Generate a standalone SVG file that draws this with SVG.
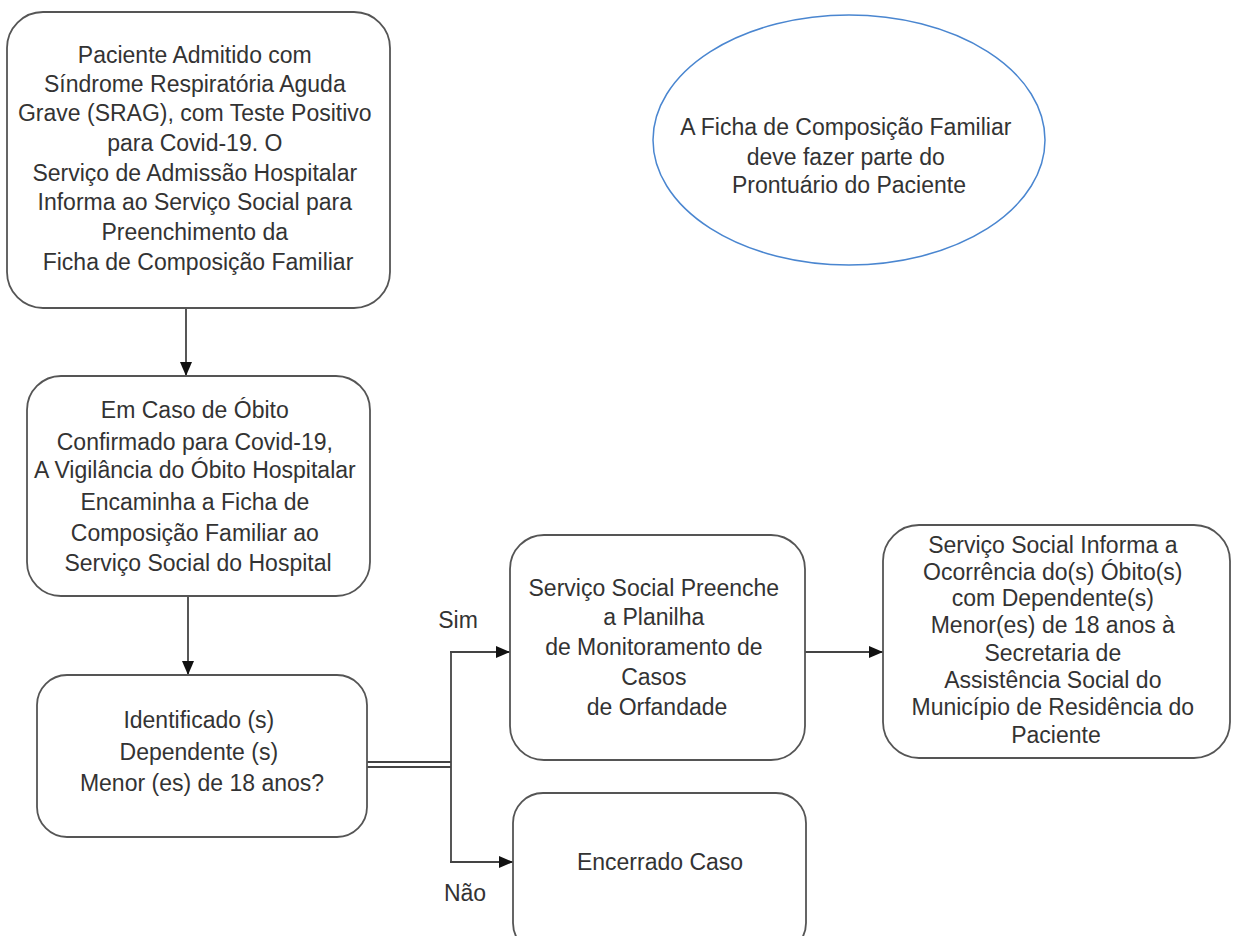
<svg xmlns="http://www.w3.org/2000/svg" width="1233" height="936" viewBox="0 0 1233 936">
<style>
.box{fill:#fff;stroke:#555;stroke-width:1.8}
.t{font-family:"Liberation Sans",Arial,sans-serif;font-size:23px;fill:#333;text-anchor:middle}
.c{fill:none;stroke:#444;stroke-width:1.8}
</style>
<defs>
<marker id="ah" viewBox="0 0 14 12" refX="14" refY="6" markerWidth="14" markerHeight="12" markerUnits="userSpaceOnUse" orient="auto">
<path d="M0,0 L14,6 L0,12 Z" fill="#111"/>
</marker>
</defs>
<rect width="1233" height="936" fill="#fff"/>
<g id="connectors">
<line class="c" x1="186" y1="308" x2="186" y2="376" marker-end="url(#ah)"/>
<line class="c" x1="188" y1="596" x2="188" y2="675" marker-end="url(#ah)"/>
<line class="c" x1="367" y1="762" x2="451" y2="762"/>
<line class="c" x1="367" y1="767" x2="451" y2="767"/>
<line class="c" x1="451" y1="652" x2="451" y2="862"/>
<line class="c" x1="450" y1="652" x2="510" y2="652" marker-end="url(#ah)"/>
<line class="c" x1="450" y1="862" x2="513" y2="862" marker-end="url(#ah)"/>
<line class="c" x1="805" y1="652" x2="883" y2="652" marker-end="url(#ah)"/>
<text class="t" x="458" y="628">Sim</text>
<text class="t" x="465" y="901">Não</text>
</g>
<g id="n1">
<rect class="box" x="7" y="12" width="383" height="296" rx="36"/>
<text class="t" y="0">
<tspan x="198" y="63">Paciente Admitido com</tspan>
<tspan x="198" y="92">Síndrome Respiratória Aguda</tspan>
<tspan x="198" y="121">Grave (SRAG), com Teste Positivo</tspan>
<tspan x="198" y="151">para Covid-19. O</tspan>
<tspan x="198" y="181">Serviço de Admissão Hospitalar</tspan>
<tspan x="198" y="210">Informa ao Serviço Social para</tspan>
<tspan x="198" y="240">Preenchimento da</tspan>
<tspan x="198" y="270">Ficha de Composição Familiar</tspan>
</text>
</g>
<g id="note">
<ellipse cx="849" cy="140" rx="196" ry="125" fill="#fff" stroke="#4a86d0" stroke-width="1.5"/>
<text class="t">
<tspan x="849" y="135">A Ficha de Composição Familiar</tspan>
<tspan x="849" y="165">deve fazer parte do</tspan>
<tspan x="849" y="193">Prontuário do Paciente</tspan>
</text>
</g>
<g id="n2">
<rect class="box" x="27" y="376" width="343" height="220" rx="34"/>
<text class="t">
<tspan x="198" y="418">Em Caso de Óbito</tspan>
<tspan x="198" y="450">Confirmado para Covid-19,</tspan>
<tspan x="198" y="478">A Vigilância do Óbito Hospitalar</tspan>
<tspan x="198" y="510">Encaminha a Ficha de</tspan>
<tspan x="198" y="541">Composição Familiar ao</tspan>
<tspan x="198" y="571">Serviço Social do Hospital</tspan>
</text>
</g>
<g id="n3">
<rect class="box" x="37" y="675" width="330" height="162" rx="30"/>
<text class="t">
<tspan x="202" y="728">Identificado (s)</tspan>
<tspan x="202" y="760">Dependente (s)</tspan>
<tspan x="202" y="791">Menor (es) de 18 anos?</tspan>
</text>
</g>
<g id="n4">
<rect class="box" x="510" y="535" width="295" height="225" rx="34"/>
<text class="t">
<tspan x="657" y="596">Serviço Social Preenche</tspan>
<tspan x="657" y="625">a Planilha</tspan>
<tspan x="657" y="655">de Monitoramento de</tspan>
<tspan x="657" y="685">Casos</tspan>
<tspan x="657" y="715">de Orfandade</tspan>
</text>
</g>
<g id="n5">
<rect class="box" x="513" y="793" width="293" height="160" rx="30"/>
<text class="t" x="660" y="870">Encerrado Caso</text>
</g>
<g id="n6">
<rect class="box" x="883" y="525" width="347" height="233" rx="36"/>
<text class="t">
<tspan x="1056" y="553">Serviço Social Informa a</tspan>
<tspan x="1056" y="580">Ocorrência do(s) Óbito(s)</tspan>
<tspan x="1056" y="606">com Dependente(s)</tspan>
<tspan x="1056" y="633">Menor(es) de 18 anos à</tspan>
<tspan x="1056" y="661">Secretaria de</tspan>
<tspan x="1056" y="688">Assistência Social do</tspan>
<tspan x="1056" y="715">Município de Residência do</tspan>
<tspan x="1056" y="743">Paciente</tspan>
</text>
</g>
</svg>
